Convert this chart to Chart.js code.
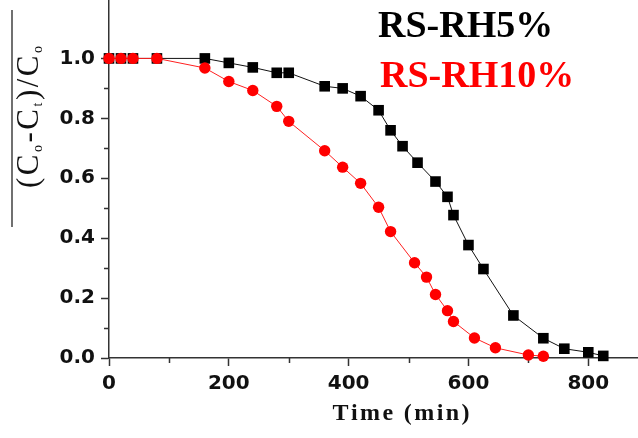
<!DOCTYPE html>
<html>
<head>
<meta charset="utf-8">
<script src="https://cdn.jsdelivr.net/npm/chart.js@4.4.0/dist/chart.umd.min.js"></script>
<style>
  html, body { margin: 0; padding: 0; background: #fff; }
  #wrap { width: 638px; height: 438px; }
</style>
</head>
<body>
<div id="wrap"><canvas id="myChart" width="638" height="438"></canvas></div>
<script>
// time (min) and (C0-Ct)/C0
const rh5Time = [0, 20, 40, 80, 160, 200, 240, 280, 300, 360, 390, 420, 450, 470, 490, 515, 545, 565, 575, 600, 625, 675, 725, 760, 800, 825];
const rh5Value = [1, 1, 1, 1, 1.0, 0.985, 0.97, 0.952, 0.952, 0.907, 0.9, 0.874, 0.827, 0.76, 0.707, 0.652, 0.589, 0.538, 0.477, 0.377, 0.297, 0.142, 0.066, 0.031, 0.019, 0.007];

const rh10Time = [0, 20, 40, 80, 160, 200, 240, 280, 300, 360, 390, 420, 450, 470, 510, 530, 545, 565, 575, 610, 645, 700, 725];
const rh10Value = [1, 1, 1, 1, 0.968, 0.923, 0.893, 0.84, 0.79, 0.692, 0.637, 0.583, 0.503, 0.422, 0.318, 0.27, 0.212, 0.158, 0.122, 0.067, 0.034, 0.01, 0.006];

const seriesNames = ['RS-RH5%', 'RS-RH10%'];

const xTicks = [0, 200, 400, 600, 800];
const xMinorTicks = [100, 300, 500, 700];
const yTicks = [0, 0.2, 0.4, 0.6, 0.8, 1.0];
const yMinorTicks = [0.1, 0.3, 0.5, 0.7, 0.9];

const axisColor = '#333';

function toPoints(xs, ys) {
  return xs.map((v, i) => ({ x: v, y: ys[i] }));
}

// draws a string char by char with extra spacing, returns width
function spacedText(ctx, str, x, y, gap, draw) {
  let w = 0;
  for (const ch of str) {
    if (draw) ctx.fillText(ch, x + w, y);
    w += ctx.measureText(ch).width + gap;
  }
  return w;
}

const decor = {
  id: 'decor',
  beforeDatasetsDraw(chart) {
    const ctx = chart.ctx;
    const xs = chart.scales.x, ys = chart.scales.y;
    ctx.save();
    ctx.strokeStyle = axisColor;
    ctx.lineWidth = 1.5;
    ctx.beginPath();
    xMinorTicks.forEach(v => {
      const px = Math.round(xs.getPixelForValue(v)) + 0.5;
      ctx.moveTo(px, ys.bottom);
      ctx.lineTo(px, ys.bottom + 5);
    });
    yMinorTicks.forEach(v => {
      const py = Math.round(ys.getPixelForValue(v)) + 0.5;
      ctx.moveTo(xs.left, py);
      ctx.lineTo(xs.left - 5, py);
    });
    ctx.stroke();
    ctx.restore();
  },
  afterDraw(chart) {
    const ctx = chart.ctx;
    ctx.save();

    // legend text, top right
    ctx.font = 'bold 38px "Liberation Serif"';
    ctx.textBaseline = 'alphabetic';
    ctx.fillStyle = '#000';
    ctx.fillText(seriesNames[0], 378, 37);
    ctx.fillStyle = '#ff0000';
    ctx.fillText(seriesNames[1], 380, 87);

    // x axis title
    ctx.fillStyle = '#111';
    ctx.font = 'bold 24px "Liberation Serif"';
    const xt = 'Time (min)';
    const gx = 2.4;
    const wx = spacedText(ctx, xt, 0, 0, gx, false) - gx;
    spacedText(ctx, xt, 401 - wx / 2, 420, gx, true);

    // y axis title, rotated, with subscripts
    const parts = [['(C', false], ['o', true], ['-C', false], ['t', true], [')/C', false], ['o', true]];
    const mainFont = '31px "Liberation Serif"';
    const subFont = '14px "Liberation Serif"';
    const gy = 2.5;
    let total = 0;
    parts.forEach(([s, sub]) => {
      ctx.font = sub ? subFont : mainFont;
      total += spacedText(ctx, s, 0, 0, gy, false);
    });
    total -= gy;
    ctx.translate(38, 117);
    ctx.rotate(-Math.PI / 2);
    let cx = -total / 2;
    parts.forEach(([s, sub]) => {
      ctx.font = sub ? subFont : mainFont;
      cx += spacedText(ctx, s, cx, sub ? 4 : 0, gy, true);
    });
    ctx.restore();

    // bar next to the y title
    ctx.save();
    ctx.strokeStyle = '#111';
    ctx.lineWidth = 1.2;
    ctx.beginPath();
    ctx.moveTo(12, 10);
    ctx.lineTo(12, 227);
    ctx.stroke();
    ctx.restore();
  }
};

const tickFont = { family: '"DejaVu Sans"', size: 20, weight: 'bold' };

const ctx = document.getElementById('myChart');
const myChart = new Chart(ctx, {
  type: 'line',
  data: {
    datasets: [{
      label: seriesNames[0],
      data: toPoints(rh5Time, rh5Value),
      borderColor: '#111',
      borderWidth: 1,
      backgroundColor: '#000',
      pointStyle: 'rect',
      pointRadius: 7.5,
      pointBorderWidth: 0,
      pointBackgroundColor: '#000',
      tension: 0,
      clip: false,
      order: 2
    }, {
      label: seriesNames[1],
      data: toPoints(rh10Time, rh10Value),
      borderColor: '#ff2020',
      borderWidth: 1,
      backgroundColor: '#ff0000',
      pointStyle: 'circle',
      pointRadius: 5.7,
      pointBorderWidth: 0,
      pointBackgroundColor: '#ff0000',
      tension: 0,
      clip: false,
      order: 1
    }]
  },
  options: {
    responsive: false,
    animation: false,
    devicePixelRatio: 1,
    layout: { padding: 0, autoPadding: false },
    plugins: {
      legend: { display: false },
      tooltip: { enabled: false }
    },
    scales: {
      x: {
        type: 'linear',
        min: 0,
        max: 883,
        afterBuildTicks: s => { s.ticks = xTicks.map(v => ({ value: v })); },
        afterFit: s => { s.height = 80; s.paddingLeft = 0; s.paddingRight = 0; },
        grid: { drawOnChartArea: false, tickLength: 8, tickColor: axisColor, tickWidth: 1.5 },
        border: { color: axisColor, width: 1.5 },
        ticks: { font: tickFont, color: '#111', padding: 6, maxRotation: 0, autoSkip: false }
      },
      y: {
        type: 'linear',
        min: 0,
        max: 1.195,
        afterBuildTicks: s => { s.ticks = yTicks.map(v => ({ value: v })); },
        afterFit: s => { s.width = 109; s.paddingTop = 0; s.paddingBottom = 0; },
        grid: { drawOnChartArea: false, tickLength: 8, tickColor: axisColor, tickWidth: 1.5 },
        border: { color: axisColor, width: 1.5 },
        ticks: {
          font: tickFont,
          color: '#111',
          padding: 6,
          callback: v => v.toFixed(1)
        }
      }
    }
  },
  plugins: [decor]
});
</script>
</body>
</html>
